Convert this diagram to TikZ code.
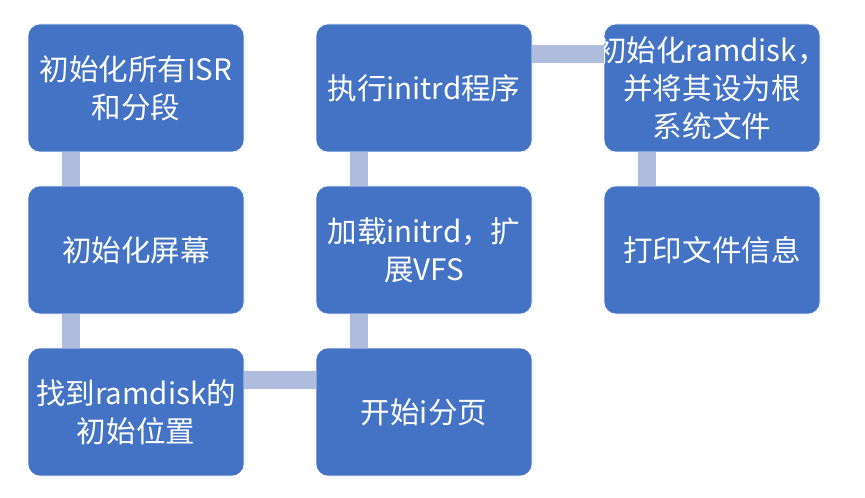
\documentclass[tikz,border=0pt]{standalone}
\usepackage{fontspec}
\setmainfont{Noto Sans CJK SC}
\usetikzlibrary{positioning, calc}
\definecolor{azulbloque}{HTML}{4472C4}
\definecolor{azulclaro}{HTML}{B0BCDD}
\tikzset{
  bloque/.style={rectangle, rounded corners=0.3cm, minimum width=5.4cm, minimum height=3.2cm,
                 text centered, draw=white, thin, fill=azulbloque, text=white, align=center,
                 font=\fontsize{21}{27}\selectfont, inner sep=0pt},
  enlace/.style={line width=0.45cm, color=azulclaro}
}
\begin{document}
\begin{tikzpicture}
  \useasboundingbox (0,0) rectangle (21.625,-12.45);
  \node (b1) [bloque] at (3.4,-2.2) {初始化所有ISR\\和分段};
  \node (b2) [bloque] at (3.4,-6.25) {初始化屏幕};
  \node (b3) [bloque] at (3.4,-10.3) {找到ramdisk的\\初始位置};
  \node (b4) [bloque] at (10.6,-10.3) {开始i分页};
  \node (b5) [bloque] at (10.6,-6.25) {加载initrd，扩\\展VFS};
  \node (b6) [bloque] at (10.6,-2.2) {执行initrd程序};
  \node (b7) [bloque] at (17.8,-2.2) {\makebox[0pt]{初始化ramdisk，}\\并将其设为根\\系统文件};
  \node (b8) [bloque] at (17.8,-6.25) {打印文件信息};
  \draw [enlace] ([xshift=-1.63cm]b1.south) -- ([xshift=-1.63cm]b2.north);
  \draw [enlace] ([xshift=-1.63cm]b2.south) -- ([xshift=-1.63cm]b3.north);
  \draw [enlace] (b3.east |- 0,-9.5) -- (b4.west |- 0,-9.5);
  \draw [enlace] ([xshift=-1.63cm]b4.north) -- ([xshift=-1.63cm]b5.south);
  \draw [enlace] ([xshift=-1.63cm]b5.north) -- ([xshift=-1.63cm]b6.south);
  \draw [enlace] (b6.east |- 0,-1.35) -- (b7.west |- 0,-1.35);
  \draw [enlace] ([xshift=-1.63cm]b7.south) -- ([xshift=-1.63cm]b8.north);
\end{tikzpicture}
\end{document}
